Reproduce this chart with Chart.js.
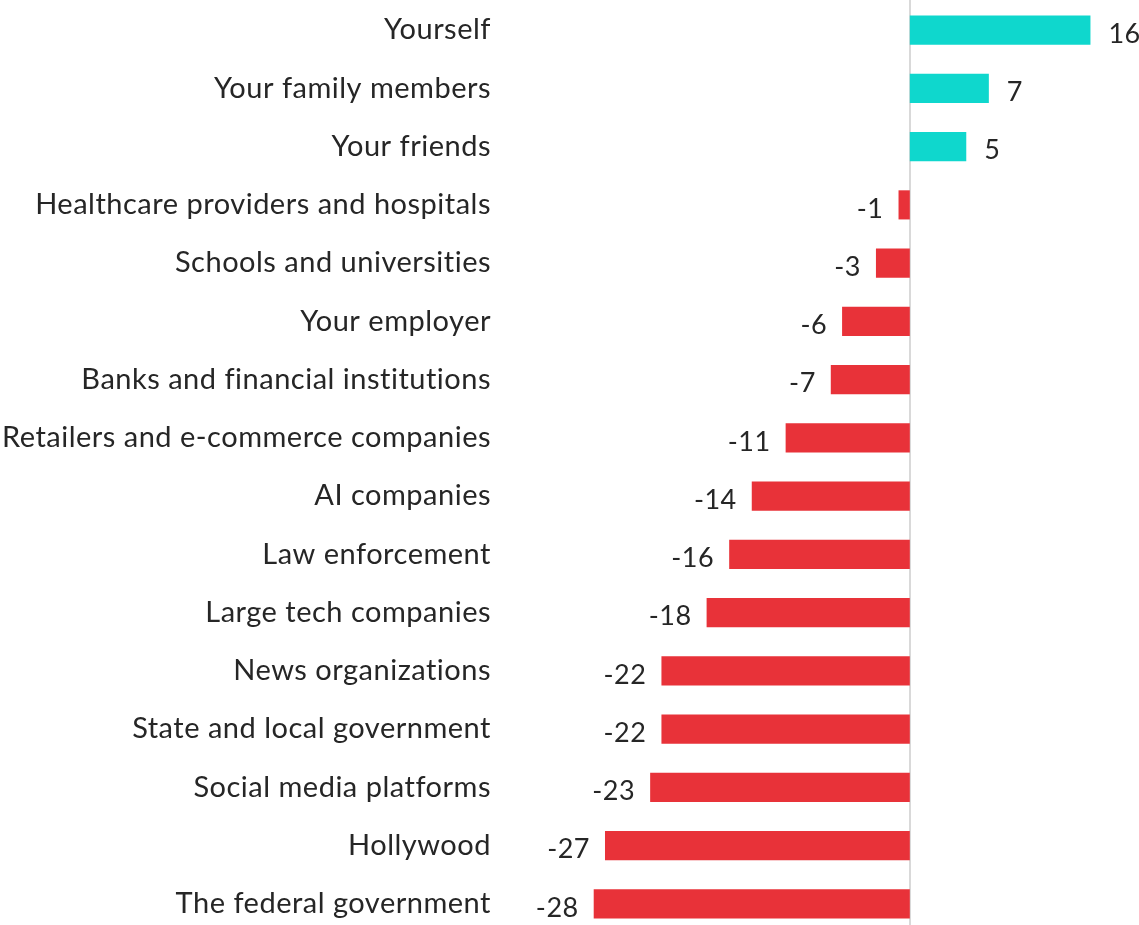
<!DOCTYPE html>
<html>
<head>
<meta charset="utf-8">
<script src="https://cdn.jsdelivr.net/npm/chart.js@4"></script>
<style>
  html, body { margin: 0; padding: 0; background: #fff; overflow: hidden; }
  #wrap { position: absolute; left: 0; top: 0; width: 1139px; height: 934px; }
</style>
</head>
<body>
<div id="wrap"><canvas id="trust"></canvas></div>
<script>
const categories = [
  'Yourself',
  'Your family members',
  'Your friends',
  'Healthcare providers and hospitals',
  'Schools and universities',
  'Your employer',
  'Banks and financial institutions',
  'Retailers and e-commerce companies',
  'AI companies',
  'Law enforcement',
  'Large tech companies',
  'News organizations',
  'State and local government',
  'Social media platforms',
  'Hollywood',
  'The federal government'
];
const netTrust = [16, 7, 5, -1, -3, -6, -7, -11, -14, -16, -18, -22, -22, -23, -27, -28];

const POS_COLOR = '#0fd7cd';
const NEG_COLOR = '#e83239';
const TEXT_COLOR = '#262626';
const FONT = 'Lato, "Open Sans", sans-serif';

// vertical line at zero plus value labels at the end of each bar
const barDecor = {
  id: 'barDecor',
  beforeDraw(chart) {
    // slightly looser tracking for all text
    chart.ctx.letterSpacing = '0.5px';
  },
  beforeDatasetsDraw(chart) {
    const ctx = chart.ctx;
    const x0 = Math.round(chart.scales.x.getPixelForValue(0));
    ctx.save();
    ctx.strokeStyle = '#d9d9d9';
    ctx.lineWidth = 2;
    ctx.beginPath();
    ctx.moveTo(x0, 0);
    ctx.lineTo(x0, chart.height);
    ctx.stroke();
    ctx.restore();
  },
  afterDatasetsDraw(chart) {
    const ctx = chart.ctx;
    const meta = chart.getDatasetMeta(0);
    ctx.save();
    ctx.font = '27px ' + FONT;
    ctx.fillStyle = TEXT_COLOR;
    ctx.textBaseline = 'middle';
    meta.data.forEach((bar, i) => {
      const v = netTrust[i];
      if (v >= 0) {
        ctx.textAlign = 'left';
        ctx.fillText(String(v), bar.x + 18, bar.y + 4);
      } else {
        ctx.textAlign = 'right';
        ctx.fillText(String(v), bar.x - 15, bar.y + 4);
      }
    });
    ctx.restore();
  }
};

new Chart(document.getElementById('trust'), {
  type: 'bar',
  data: {
    labels: categories,
    datasets: [{
      data: netTrust,
      backgroundColor: netTrust.map(v => v >= 0 ? POS_COLOR : NEG_COLOR),
      barPercentage: 0.5,
      categoryPercentage: 1.0
    }]
  },
  options: {
    indexAxis: 'y',
    responsive: true,
    maintainAspectRatio: false,
    animation: false,
    layout: { padding: { top: 1, right: 0, bottom: 1, left: 0 } },
    plugins: {
      legend: { display: false },
      tooltip: { enabled: false }
    },
    scales: {
      x: {
        min: -36.3,
        max: 20.3,
        afterFit(scale) {
          scale.height = 0;
          scale.paddingLeft = 0;
          scale.paddingRight = 0;
        },
        ticks: { display: false },
        border: { display: false },
        grid: { display: false }
      },
      y: {
        afterFit(scale) {
          scale.width = 500;
          scale.paddingTop = 0;
          scale.paddingBottom = 0;
        },
        border: { display: false },
        grid: { display: false, drawTicks: false },
        ticks: {
          padding: 9,
          color: TEXT_COLOR,
          font: { family: FONT, size: 29 }
        }
      }
    }
  },
  plugins: [barDecor]
});
</script>
</body>
</html>
